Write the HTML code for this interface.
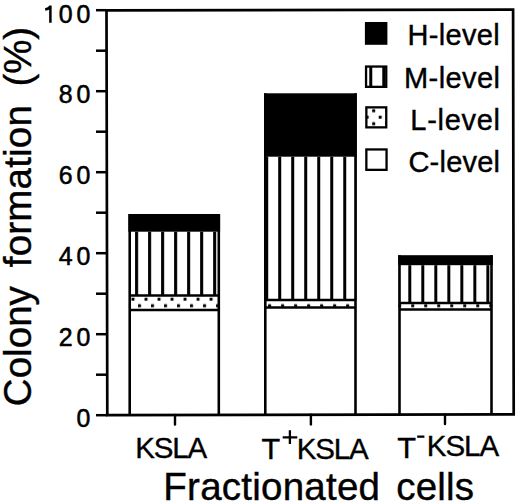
<!DOCTYPE html>
<html><head><meta charset="utf-8">
<style>
html,body{margin:0;padding:0;background:#fff;}
body{width:520px;height:503px;overflow:hidden;}
svg{display:block;}
text{font-family:"Liberation Sans", sans-serif;fill:#000;font-kerning:none;}
</style></head>
<body>
<svg width="520" height="503" viewBox="0 0 520 503">
<defs>
<pattern id="stripes" patternUnits="userSpaceOnUse" x="135.1" y="0" width="13.01" height="13">
<rect x="0" y="0" width="3.0" height="13" fill="#000"/>
</pattern>
<pattern id="dots" patternUnits="userSpaceOnUse" x="131.5" y="297.7" width="13.01" height="13">
<rect x="0" y="0" width="3" height="3" rx="0.6" fill="#000"/>
<rect x="6.5" y="6.5" width="3" height="3" rx="0.6" fill="#000"/>
</pattern>
</defs>
<rect width="520" height="503" fill="#fff"/>

<!-- Bars -->
<!-- KSLA -->
<g>
<rect x="128.40" y="214.0" width="91.70" height="17.70" fill="#000"/>
<rect x="128.40" y="231.7" width="91.70" height="63.80" fill="url(#stripes)"/>
<rect x="128.40" y="295.5" width="91.70" height="14.40" fill="url(#dots)"/>
<line x1="129.7" y1="295.5" x2="218.8" y2="295.5" stroke="#000" stroke-width="2.5"/>
<line x1="129.7" y1="309.9" x2="218.8" y2="309.9" stroke="#000" stroke-width="2.5"/>
<line x1="129.7" y1="214.0" x2="129.7" y2="415" stroke="#000" stroke-width="2.6"/>
<line x1="218.8" y1="214.0" x2="218.8" y2="415" stroke="#000" stroke-width="2.6"/>
</g>
<!-- T+KSLA -->
<g>
<rect x="264.00" y="93.3" width="92.80" height="63.40" fill="#000"/>
<rect x="264.00" y="156.7" width="92.80" height="143.20" fill="url(#stripes)"/>
<rect x="264.00" y="299.9" width="92.80" height="7.50" fill="url(#dots)"/>
<line x1="265.3" y1="299.9" x2="355.5" y2="299.9" stroke="#000" stroke-width="2.5"/>
<line x1="265.3" y1="307.4" x2="355.5" y2="307.4" stroke="#000" stroke-width="2.5"/>
<line x1="265.3" y1="93.3" x2="265.3" y2="415" stroke="#000" stroke-width="2.6"/>
<line x1="355.5" y1="93.3" x2="355.5" y2="415" stroke="#000" stroke-width="2.6"/>
</g>
<!-- T-KSLA -->
<g>
<rect x="398.20" y="255.2" width="94.60" height="10.00" fill="#000"/>
<rect x="398.20" y="265.2" width="94.60" height="37.70" fill="url(#stripes)"/>
<rect x="398.20" y="302.9" width="94.60" height="6.60" fill="url(#dots)"/>
<line x1="399.5" y1="302.9" x2="491.5" y2="302.9" stroke="#000" stroke-width="2.5"/>
<line x1="399.5" y1="309.5" x2="491.5" y2="309.5" stroke="#000" stroke-width="2.5"/>
<line x1="399.5" y1="255.2" x2="399.5" y2="415" stroke="#000" stroke-width="2.6"/>
<line x1="491.5" y1="255.2" x2="491.5" y2="415" stroke="#000" stroke-width="2.6"/>
</g>

<!-- Frame -->
<path d="M106.5,10.3 L513.1,9.7 L513.7,414.3 L107.3,415.2 Z" fill="none" stroke="#000" stroke-width="2.7" stroke-linejoin="miter"/>

<!-- Y ticks -->
<g stroke="#000" stroke-width="2.5">
<line x1="96" y1="415.20" x2="107.3" y2="415.20"/>
<line x1="96" y1="374.70" x2="107.2" y2="374.70"/>
<line x1="96" y1="334.20" x2="107.1" y2="334.20"/>
<line x1="96" y1="293.70" x2="107.1" y2="293.70"/>
<line x1="96" y1="253.20" x2="107.0" y2="253.20"/>
<line x1="96" y1="212.70" x2="106.9" y2="212.70"/>
<line x1="96" y1="172.20" x2="106.8" y2="172.20"/>
<line x1="96" y1="131.70" x2="106.7" y2="131.70"/>
<line x1="96" y1="91.20" x2="106.7" y2="91.20"/>
<line x1="96" y1="50.70" x2="106.6" y2="50.70"/>
<line x1="96" y1="10.20" x2="106.5" y2="10.20"/>
<!-- X ticks -->
<line x1="175" y1="415" x2="175" y2="424.6" stroke-linecap="round" stroke-width="2.4"/>
<line x1="310.9" y1="414.7" x2="310.9" y2="424.4" stroke-linecap="round" stroke-width="2.4"/>
<line x1="445" y1="414.4" x2="445" y2="424.0" stroke-linecap="round" stroke-width="2.4"/>
</g>

<!-- Y labels -->
<g font-size="24.9" stroke="#000" stroke-width="0.55">
<path d="M50.4,22.7 V5.4 M50.6,6.2 Q48.8,8.9 45.2,9.6" fill="none" stroke-width="2.5"/>
<text x="58.7 76.6" y="22.5">00</text>
<text x="58.7 76.6" y="103.3">80</text>
<text x="58.7 76.6" y="184.3">60</text>
<text x="58.7 76.6" y="265.1">40</text>
<text x="58.7 76.6" y="345.9">20</text>
<text x="76.6" y="426.7">0</text>
</g>

<!-- Legend -->
<rect x="366.05" y="23.15" width="20.2" height="20.5" fill="#000" stroke="#000" stroke-width="2.3"/>
<rect x="366.05" y="66.55" width="20.2" height="20.3" fill="url(#stripes)"/>
<rect x="366.05" y="66.55" width="20.2" height="20.3" fill="none" stroke="#000" stroke-width="2.3"/>
<rect x="366.35" y="107.35" width="19.9" height="20.0" fill="url(#dots)"/>
<rect x="366.35" y="107.35" width="19.9" height="20.0" fill="none" stroke="#000" stroke-width="2.3"/>
<rect x="366.35" y="149.45" width="20.2" height="20.4" fill="none" stroke="#000" stroke-width="2.3"/>

<g font-size="29" stroke="#000" stroke-width="0.4">
<text x="407.62" y="44.9" textLength="92.02" lengthAdjust="spacing">H-level</text>
<text x="403.92" y="87.7" textLength="96.12" lengthAdjust="spacing">M-level</text>
<text x="410.32" y="130.1" textLength="89.72" lengthAdjust="spacing">L-level</text>
<text x="408.43" y="171.6" textLength="91.61" lengthAdjust="spacing">C-level</text>
</g>

<!-- Category labels -->
<g font-size="29.5" stroke="#000" stroke-width="0.35">
<text x="135.26" y="457.8" textLength="71.93" lengthAdjust="spacing">KSLA</text>
<text x="296.86" y="459.1" textLength="71.83" lengthAdjust="spacing">KSLA</text>
<text x="426.86" y="456.3" textLength="72.23" lengthAdjust="spacing">KSLA</text>
<text x="261.6" y="459.4" textLength="18.7" lengthAdjust="spacingAndGlyphs">T</text>
<text x="397.3" y="457.9" textLength="18.8" lengthAdjust="spacingAndGlyphs">T</text>
</g>
<path d="M282.7,437.3 H297.3 M289.9,430.3 V444.1" stroke="#000" stroke-width="2.3" fill="none"/>
<rect x="417.2" y="435.5" width="7.2" height="2.3" fill="#000"/>

<!-- Axis titles -->
<g font-size="38.5" stroke="#000" stroke-width="0.4">
<text x="163.34" y="499.6" textLength="216.64" lengthAdjust="spacing">Fractionated</text>
<text x="396.26" y="499.6" textLength="77.83" lengthAdjust="spacing">cells</text>
<text transform="translate(31.0,406.16) rotate(-90)" x="0" y="0" textLength="120.03" lengthAdjust="spacing">Colony</text>
<text transform="translate(31.0,267.25) rotate(-90)" x="0" y="0" textLength="162.15" lengthAdjust="spacing">formation</text>
<text transform="translate(31.0,86.39) rotate(-90)" x="0" y="0" textLength="59.47" lengthAdjust="spacing">(%)</text>
</g>
</svg>
</body></html>
